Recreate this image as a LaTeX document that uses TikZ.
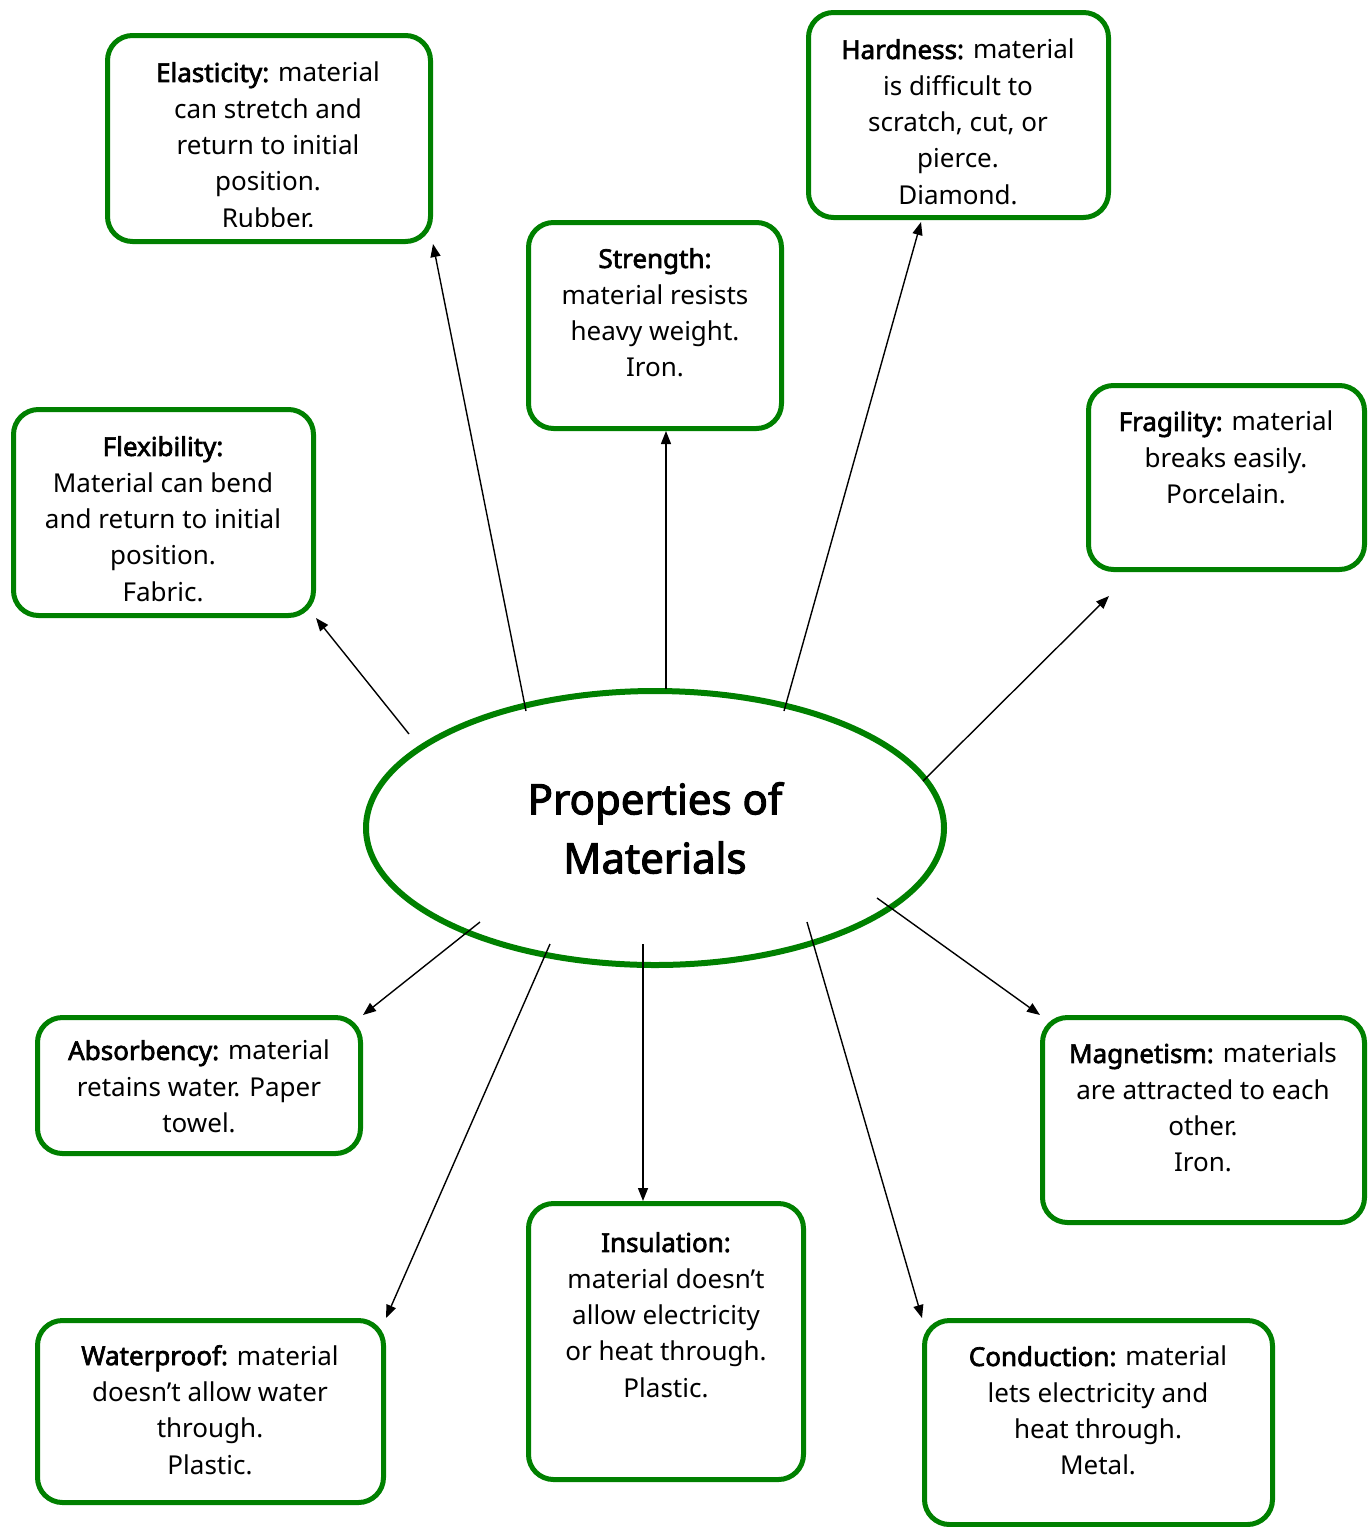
\documentclass[tikz,border=0pt]{standalone}
\usepackage{fontspec}
\setmainfont{Noto Sans}[AutoFakeBold=2.5]
\usetikzlibrary{shapes.geometric,arrows.meta}
\definecolor{pgreen}{RGB}{0,128,0}
\newcommand\pbox[5]{\node[pbox, minimum width={#4-#2}, minimum height={#5-#3}] (#1) at ({(#2+#4)/2},{(#3+#5)/2}) {};}
\begin{document}
\begin{tikzpicture}[x=1pt,y=-1pt,
  pbox/.style={draw=pgreen, line width=5pt, rounded corners=25pt, inner sep=0pt, fill=white},
  ptext/.style={align=center, anchor=north, inner sep=0pt, font=\fontsize{26}{36.3}\selectfont},
  conn/.style={line width=1.4pt, -{Triangle[length=13pt,width=10pt]}}]
\useasboundingbox[fill=white] (0,0) rectangle (1369,1527);
% boxes
\pbox{elas}{107.5}{35.5}{430.5}{241.5}
\pbox{str}{528.5}{222.5}{781.5}{428.5}
\pbox{hard}{808.5}{12.5}{1108.5}{217.5}
\pbox{frag}{1088.5}{385.5}{1364.5}{569.5}
\pbox{flex}{13.5}{409.5}{313.5}{615.5}
\pbox{abs}{37.5}{1017.5}{360.5}{1153.5}
\pbox{mag}{1042.5}{1017.5}{1364.5}{1222.5}
\pbox{wat}{37.5}{1320.5}{383.5}{1502.5}
\pbox{ins}{528.5}{1203.5}{803.5}{1479.5}
\pbox{con}{924.5}{1320.5}{1272.5}{1524.5}
% central ellipse
\node[ellipse, draw=pgreen, line width=6pt, minimum width=578pt, minimum height=274pt, inner sep=0pt,
  align=center, font=\fontsize{42}{59}\selectfont\bfseries] (ell) at (655,828) {Properties of\\Materials};
% texts
\begin{scope}
\clip (110,40) rectangle (428,226);
\node[ptext] (telas) at (268,62) {\textbf{Elasticity:} material\\can stretch and\\return to initial\\position.\\Rubber.};
\end{scope}
\node[ptext] (tstr) at (655,248) {\textbf{Strength:}\\material resists\\heavy weight.\\Iron.};
\begin{scope}
\clip (811,15) rectangle (1106,205);
\node[ptext] (thard) at (958,39) {\textbf{Hardness:} material\\is difficult to\\scratch, cut, or\\pierce.\\Diamond.};
\end{scope}
\node[ptext] (tfrag) at (1226,411) {\textbf{Fragility:} material\\breaks easily.\\Porcelain.};
\begin{scope}
\clip (16,412) rectangle (311,602);
\node[ptext] (tflex) at (163,436) {\textbf{Flexibility:}\\Material can bend\\and return to initial\\position.\\Fabric.};
\end{scope}
\node[ptext] (tabs) at (199,1040) {\textbf{Absorbency:} material\\retains water. Paper\\towel.};
\node[ptext] (tmag) at (1203,1043) {\textbf{Magnetism:} materials\\are attracted to each\\other.\\Iron.};
\node[ptext] (twat) at (210,1345) {\textbf{Waterproof:} material\\doesn’t allow water\\through.\\Plastic.};
\node[ptext] (tins) at (666,1232) {\textbf{Insulation:}\\material doesn’t\\allow electricity\\or heat through.\\Plastic.};
\node[ptext] (tcon) at (1098,1346) {\textbf{Conduction:} material\\lets electricity and\\heat through.\\Metal.};
% connector start points
\coordinate (sflex) at (409,734);
\coordinate (selas) at (526,711);
\coordinate (sstr) at (666,689);
\coordinate (shard) at (784,711);
\coordinate (sfrag) at (923,781);
\coordinate (sabs) at (480,922);
\coordinate (swat) at (550,944);
\coordinate (sins) at (643,944);
\coordinate (scon) at (807,922);
\coordinate (smag) at (877,898);
\coordinate (ehard) at (921,222);
\coordinate (efrag) at (1109,596);
% connectors
\draw[conn] (sflex) -- (flex.south east);
\draw[conn] (selas) -- (elas.south east);
\draw[conn] (sstr) -- (sstr |- str.south);
\draw[conn] (shard) -- (ehard);
\draw[conn] (sfrag) -- (efrag);
\draw[conn] (sabs) -- (abs.north east);
\draw[conn] (swat) -- (wat.north east);
\draw[conn] (sins) -- (sins |- ins.north);
\draw[conn] (scon) -- (con.north west);
\draw[conn] (smag) -- (mag.north west);
\end{tikzpicture}
\end{document}
